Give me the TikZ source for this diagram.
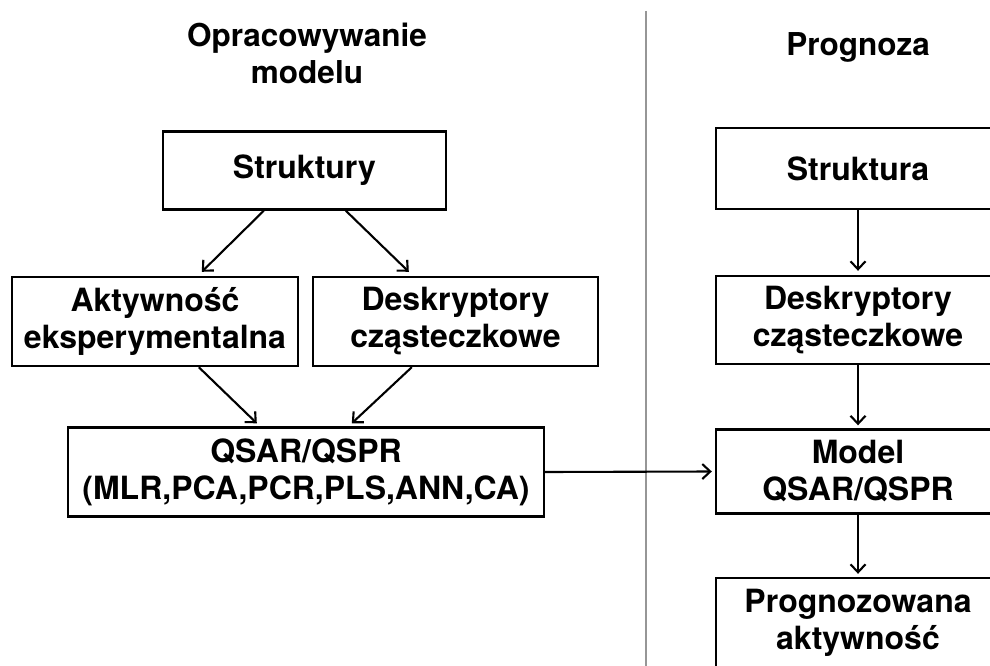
\documentclass[tikz,border=0pt]{standalone}
\usepackage{fontspec}
\setmainfont{TeX Gyre Heros}
\usetikzlibrary{arrows.meta,calc}
\begin{document}
\begin{tikzpicture}[x=1pt,y=-1pt,
  box/.style={draw=black,line width=2.4pt,align=center,inner sep=0pt,
    font=\fontsize{32}{37}\selectfont\bfseries},
  ttl/.style={align=center,inner sep=0pt,font=\fontsize{31.5}{37}\selectfont\bfseries},
  arr/.style={line width=2.1pt,-{Straight Barb[length=8pt,width=15pt,line width=2.1pt]}},
  sep/.style={line width=2.2pt,draw={rgb,255:red,150;green,150;blue,150}}]
\useasboundingbox (0,0) rectangle (990,666);
\clip (0,0) rectangle (990,666);
% separator
\coordinate (septop) at (646,11);
\coordinate (sepbot) at (646,670);
\draw[sep] (septop) -- (sepbot);
% titles
\node[ttl] (t1) at (307,53) {Opracowywanie\\modelu};
\node[ttl] (t2) at (858,47) {Prognoza};
% left column
\node[box,minimum width=283pt,minimum height=78pt] (struktury) at (304.5,170.5) {Struktury};
\node[box,minimum width=286pt,minimum height=89pt] (akt) at (155,321.5) {Aktywność\\eksperymentalna};
\node[box,minimum width=285pt,minimum height=89pt] (desk1) at (455.5,321.5) {Deskryptory\\cząsteczkowe};
\node[box,minimum width=476pt,minimum height=89pt] (qsar) at (306,472) {QSAR/QSPR\\(MLR,PCA,PCR,PLS,ANN,CA)};
% right column
\node[box,minimum width=284pt,minimum height=81pt] (struktura) at (858,168.5) {Struktura};
\node[box,minimum width=284pt,minimum height=88pt] (desk2) at (858,320) {Deskryptory\\cząsteczkowe};
\node[box,minimum width=284pt,minimum height=84pt] (model) at (858,471.5) {Model\\QSAR/QSPR};
\node[box,minimum width=284pt,minimum height=90pt] (progn) at (858,623) {Prognozowana\\aktywność};
% arrows
\draw[arr] ([xshift=102pt]struktury.south west) -- ([xshift=191pt,yshift=4pt]akt.north west);
\draw[arr] ([xshift=184pt]struktury.south west) -- ([xshift=97pt,yshift=4pt]desk1.north west);
\draw[arr] ([xshift=188pt]akt.south west) -- ([xshift=190pt,yshift=3pt]qsar.north west);
\draw[arr] ([xshift=100pt]desk1.south west) -- ([xshift=285pt,yshift=3pt]qsar.north west);
\draw[arr] (qsar.east) -- ([xshift=-3pt]model.west);
\draw[arr] (struktura.south) -- ([yshift=4pt]desk2.north);
\draw[arr] (desk2.south) -- ([yshift=3pt]model.north);
\draw[arr] (model.south) -- ([yshift=3pt]progn.north);
\end{tikzpicture}
\end{document}
